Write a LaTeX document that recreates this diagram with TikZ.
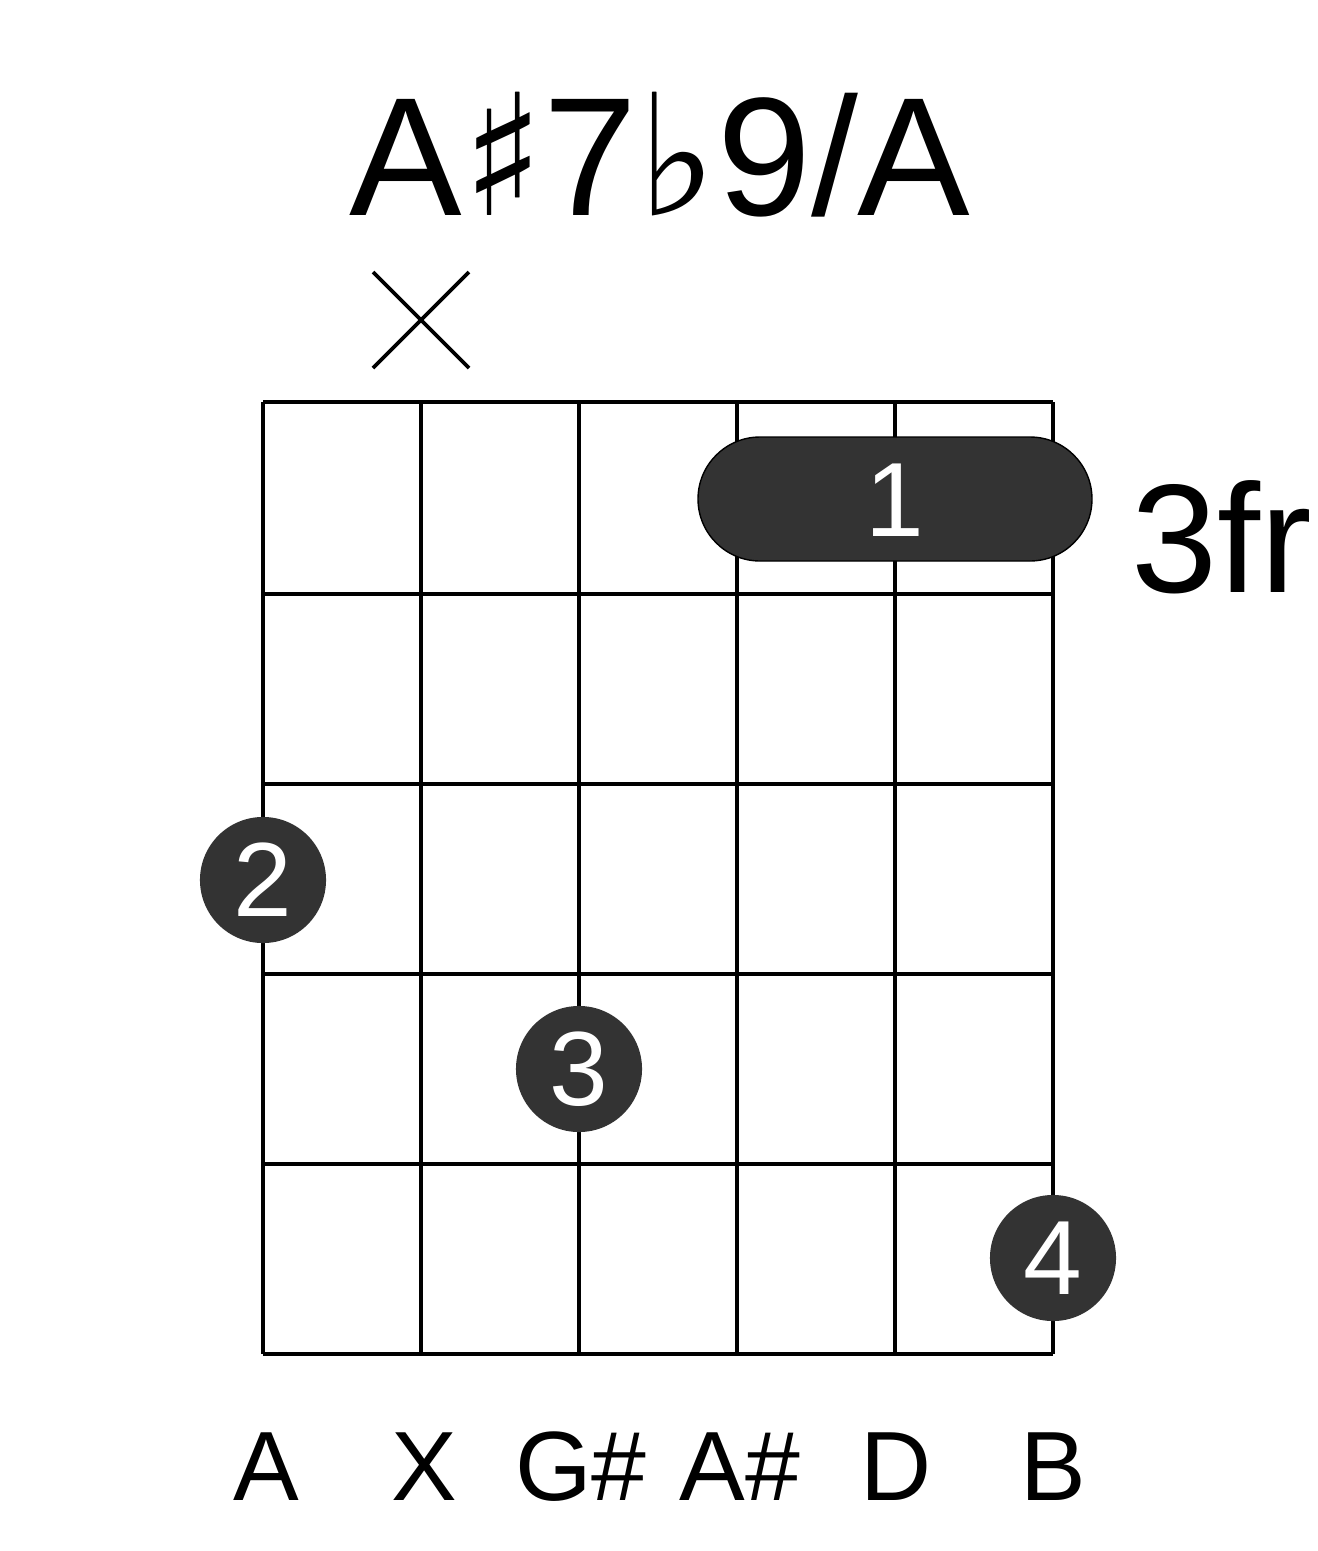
\documentclass[tikz,border=0pt]{standalone}
\usepackage{fontspec}
\setmainfont{Liberation Sans}
\newfontfamily\symfont{DejaVu Sans}
\definecolor{dotgray}{HTML}{333333}
\begin{document}
\begin{tikzpicture}[x=0.01cm,y=-0.01cm]
		\tikzstyle{fretline} = [line width=1.2pt,black]
		\tikzstyle{finger} = [circle,fill=dotgray,minimum size=1.26cm,inner sep=0pt,text=white,font=\fontsize{30}{30}\selectfont]
		\tikzstyle{strname} = [font=\fontsize{28}{28}\selectfont]
		\useasboundingbox (0,0) rectangle (1317,1551);
		\node (title) at (660,155) {\fontsize{48}{48}\selectfont A{\symfont\char"266F}7{\symfont\char"266D}9/A};
		\draw[line width=1.1pt] (373,272) -- (469,368) (469,272) -- (373,368);
		% grid
		\foreach \x in {263,421,579,737,895,1053}
			\draw[fretline] (\x,402) -- (\x,1354);
		\foreach \y in {402,594,784,974,1164,1354}
			\draw[fretline] (263,\y) -- (1053,\y);
		% barre
		\draw[fill=dotgray,rounded corners=0.62cm] (698,437) rectangle (1092,561);
		\node[text=white,font=\fontsize{30}{30}\selectfont] (b1) at (895,500) {1};
		\node[font=\fontsize{44}{44}\selectfont] (fr) at (1222,537) {3fr};
		% fingers
		\node[finger] (f2) at (263,880) {2};
		\node[finger] (f3) at (579,1069) {3};
		\node[finger] (f4) at (1053,1258) {4};
		% string names
		\node[strname] (s1) at (266,1467) {A};
		\node[strname] (s2) at (424,1467) {X};
		\node[strname] (s3) at (581,1467) {G\#};
		\node[strname] (s4) at (740,1467) {A\#};
		\node[strname] (s5) at (896,1467) {D};
		\node[strname] (s6) at (1053,1467) {B};
\end{tikzpicture}
\end{document}
